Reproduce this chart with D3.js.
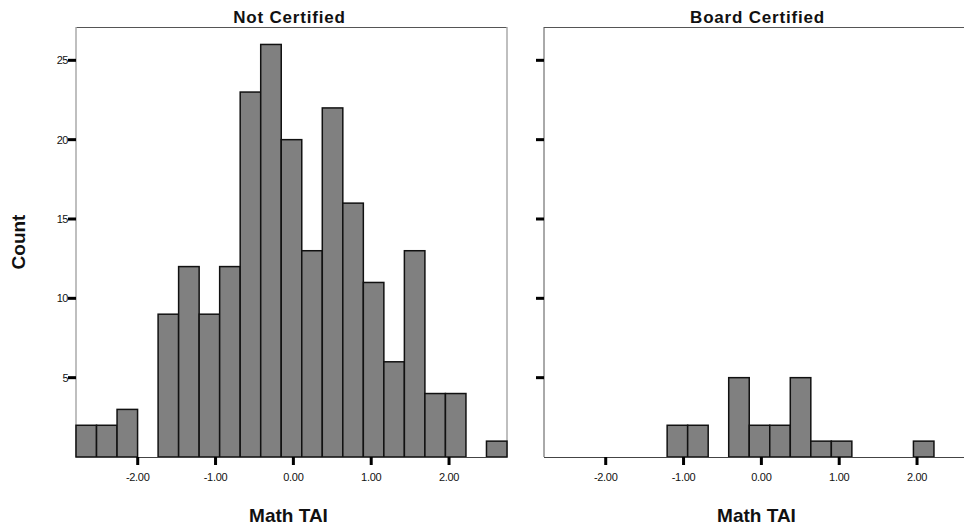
<!DOCTYPE html>
<html>
<head>
<meta charset="utf-8">
<script src="https://cdn.jsdelivr.net/npm/d3@7"></script>
<style>
  body { margin: 0; background: #fff; }
  svg { display: block; font-family: "Liberation Sans", Arial, sans-serif; }
</style>
</head>
<body>
<svg id="chart" width="964" height="529"></svg>
<script>
// histogram bins (Math TAI), same bins in both panels
const binStart = -2.793;
const binWidth = 0.2637;
const notCertified = [2, 2, 3, 0, 9, 12, 9, 12, 23, 26, 20, 13, 22, 16, 11, 6, 13, 4, 4, 0, 1];
const boardCertified = [0, 0, 0, 0, 0, 0, 2, 2, 0, 5, 2, 2, 5, 1, 1, 0, 0, 0, 1, 0, 0];
const xTicks = [-2, -1, 0, 1, 2];
const yTicks = [5, 10, 15, 20, 25];
const panelTitles = ["Not Certified", "Board Certified"];

const svg = d3.select("#chart");
const plotTop = 27, plotBottom = 457, plotW = 431;
const panelLeft = [76, 544];

const y = d3.scaleLinear().domain([0, 27.1]).range([plotBottom, plotTop]);

const drawPanel = (left, counts, title, showLabels) => {
    const x = d3.scaleLinear()
        .domain([binStart, binStart + binWidth * counts.length])
        .range([left, left + plotW]);

    const g = svg.append('g');

    // frame: dark top, light sides on the left panel
    g.append('line')
        .attr('x1', left).attr('x2', left + plotW)
        .attr('y1', plotTop + 0.5).attr('y2', plotTop + 0.5)
        .attr('stroke', '#555').attr('stroke-width', 1);
    g.append('line')
        .attr('x1', left).attr('x2', left)
        .attr('y1', plotTop).attr('y2', plotBottom)
        .attr('stroke', showLabels ? '#aaa' : '#555').attr('stroke-width', showLabels ? 1.5 : 1);
    if (showLabels) {
        g.append('line')
            .attr('x1', left + plotW).attr('x2', left + plotW)
            .attr('y1', plotTop).attr('y2', plotBottom)
            .attr('stroke', '#aaa').attr('stroke-width', 1.5);
    }

    const bins = counts.map((c, i) => ({ x0: binStart + i * binWidth, x1: binStart + (i + 1) * binWidth, c }))
        .filter(d => d.c > 0);

    g.selectAll('rect.bar')
        .data(bins)
        .enter()
        .append('rect')
        .attr('class', 'bar')
        .attr('x', d => x(d.x0))
        .attr('y', d => y(d.c))
        .attr('width', d => x(d.x1) - x(d.x0))
        .attr('height', d => y(0) - y(d.c))
        .attr('fill', '#808080')
        .attr('stroke', '#111')
        .attr('stroke-width', 1.5);

    // baseline
    g.append('line')
        .attr('x1', left).attr('x2', Math.min(left + plotW, 964))
        .attr('y1', plotBottom + 0.5).attr('y2', plotBottom + 0.5)
        .attr('stroke', '#444').attr('stroke-width', 1);

    // x ticks
    const xAxis = g.append('g');
    xAxis.selectAll('rect')
        .data(xTicks)
        .enter()
        .append('rect')
        .attr('x', d => x(d) - 1.5)
        .attr('y', plotBottom)
        .attr('width', 3)
        .attr('height', 8)
        .attr('fill', '#000');
    xAxis.selectAll('text')
        .data(xTicks)
        .enter()
        .append('text')
        .attr('x', d => x(d))
        .attr('y', 481)
        .attr('text-anchor', 'middle')
        .attr('font-size', 11)
        .attr('letter-spacing', -0.3)
        .attr('fill', '#111')
        .text(d => d.toFixed(2));

    // y ticks
    const yAxis = g.append('g');
    yAxis.selectAll('rect')
        .data(yTicks)
        .enter()
        .append('rect')
        .attr('x', left - 8)
        .attr('y', d => y(d) - 1.5)
        .attr('width', 8)
        .attr('height', 3)
        .attr('fill', '#000');
    if (showLabels) {
        yAxis.selectAll('text')
            .data(yTicks)
            .enter()
            .append('text')
            .attr('x', left - 8)
            .attr('y', d => y(d) + 4)
            .attr('text-anchor', 'end')
            .attr('font-size', 11)
            .attr('letter-spacing', -0.5)
            .attr('fill', '#111')
            .text(d => d);
    }

    // panel title and x label
    const mid = left + plotW / 2;
    g.append('text')
        .attr('x', mid - 2).attr('y', 23)
        .attr('text-anchor', 'middle')
        .attr('font-size', 17).attr('font-weight', 'bold')
        .attr('letter-spacing', 0.8)
        .attr('fill', '#111')
        .text(title);
    g.append('text')
        .attr('x', mid - 3).attr('y', 522)
        .attr('text-anchor', 'middle')
        .attr('font-size', 19).attr('font-weight', 'bold')
        .attr('fill', '#111')
        .text('Math TAI');
};

drawPanel(panelLeft[0], notCertified, panelTitles[0], true);
drawPanel(panelLeft[1], boardCertified, panelTitles[1], false);

svg.append('text')
    .attr('transform', 'translate(25 242) rotate(-90)')
    .attr('text-anchor', 'middle')
    .attr('font-size', 19).attr('font-weight', 'bold')
    .attr('fill', '#111')
    .text('Count');
</script>
</body>
</html>
